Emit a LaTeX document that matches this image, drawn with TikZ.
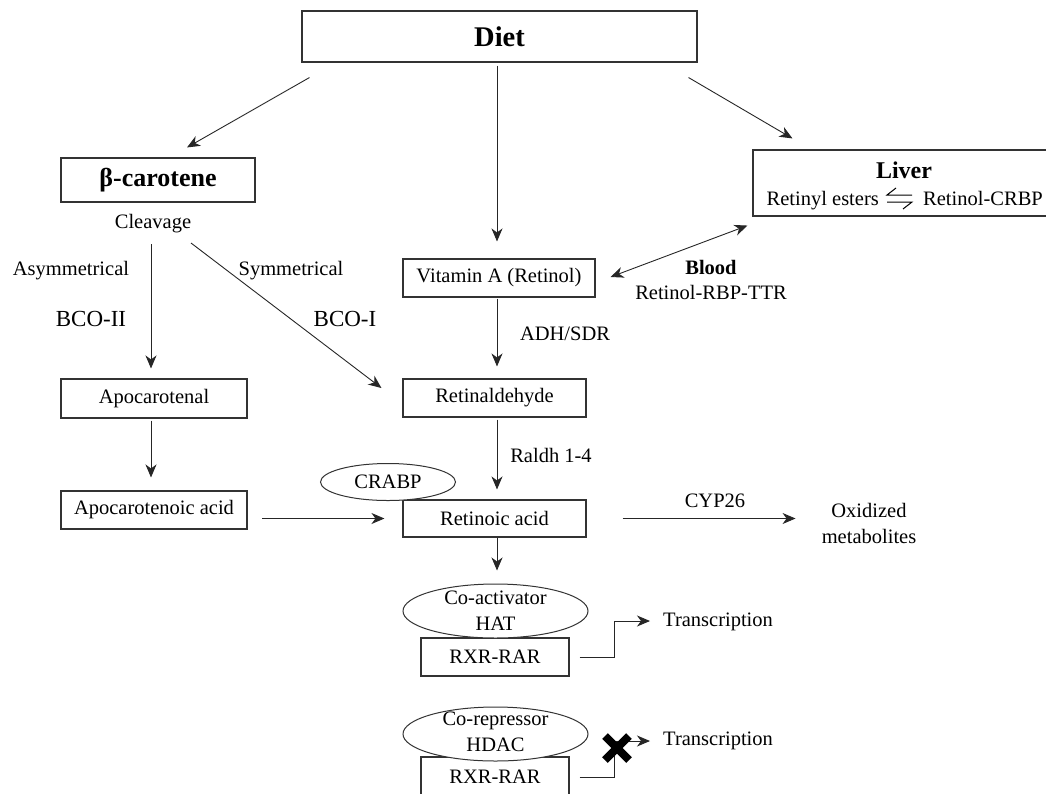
\documentclass[tikz,border=0pt]{standalone}
\usepackage{fontspec}
\setmainfont{Liberation Serif}
\usetikzlibrary{arrows.meta,shapes.geometric,calc}
\newcommand{\fz}[1]{\fontsize{#1}{26}\selectfont}
\tikzset{myst/.tip={Stealth[length=13pt,width=11pt,inset=4pt]}}
\begin{document}
\begin{tikzpicture}[x=1pt,y=-1pt,
 box/.style={draw=black!80, line width=1.1pt, inner sep=0pt, minimum height=38pt, font=\fz{20.5}},
 oval/.style={draw=black!80, line width=1pt, ellipse, inner sep=0pt, fill=white, font=\fz{20.5}},
 lbl/.style={inner sep=0pt, font=\fz{20.5}},
 arr/.style={draw=black!85, line width=0.9pt, -myst},
 harp/.style={draw=black, line width=1pt, line join=miter},
 xmark/.style={line width=8pt, draw=black},
]
\useasboundingbox (0,0) rectangle (1046,793);
\clip (0,0) rectangle (1046,793);

% nodes
\node[box, minimum width=395pt, minimum height=51pt, font=\fz{28.5}\bfseries] (diet) at (499.5,36.5) {Diet};
\node[box, minimum width=194pt, minimum height=44pt, font=\fz{26}\bfseries] (bc) at (158,180) {β-carotene};
\node[lbl] (cleav) at (153,224) {Cleavage};
\node[lbl] (asym) at (71,271) {Asymmetrical};
\node[lbl, font=\fz{23}] (bco2) at (91,319) {BCO-II};
\node[lbl] (sym) at (291,271) {Symmetrical};
\node[lbl, font=\fz{23}] (bco1) at (345,319) {BCO-I};
\node[box, minimum width=192pt] (vita) at (499,278) {Vitamin A (Retinol)};
\node[box, minimum width=297pt, minimum height=66pt] (liver) at (901.5,183) {};
\node[lbl, font=\fz{24}\bfseries] (livertxt) at (904,170) {Liver};
\node[lbl, anchor=base east] (esters) at (879,205) {Retinyl esters};
\node[lbl, anchor=base west] (rcrbp) at (923,205) {Retinol-CRBP};
\node[lbl, font=\fz{20.5}\bfseries] (blood) at (711,267) {Blood};
\node[lbl] (rbp) at (711,292) {Retinol-RBP-TTR};
\node[lbl] (adh) at (565,334) {ADH/SDR};
\node[box, minimum width=183pt] (retald) at (494.5,398) {Retinaldehyde};
\node[box, minimum width=186pt, minimum height=39pt] (apal) at (154,398.5) {Apocarotenal};
\node[lbl] (raldh) at (551,455) {Raldh 1-4};
\node[box, minimum width=186pt] (apacid) at (154,510) {Apocarotenoic acid};
\node[box, minimum width=183pt, minimum height=37pt] (retacid) at (494.5,518.5) {Retinoic acid};
\node[oval, minimum width=135pt, minimum height=37pt] (crabp) at (388,482) {CRABP};
\node[lbl] (cyp) at (715,501) {CYP26};
\node[lbl, align=center] (oxid) at (869,523) {Oxidized\\metabolites};

\node[box, minimum width=148pt] (rxr1) at (495,657) {RXR-RAR};
\node[oval, minimum width=185pt, minimum height=54pt] (coact) at (495.5,611) {};
\node[lbl, align=center] (coacttxt) at (coact.center) {Co-activator\\HAT};
\node[lbl, anchor=west] (tr1) at (663,622) {Transcription};

\node[box, minimum width=148pt, minimum height=40pt] (rxr2) at (495,777) {RXR-RAR};
\node[oval, minimum width=185pt, minimum height=54pt] (corep) at (495.5,734) {};
\node[lbl, align=center] (coreptxt) at (495.5,732) {Co-repressor\\HDAC};
\node[lbl, anchor=west] (tr2) at (663,741) {Transcription};

% equilibrium harpoons in the liver box
\draw[harp] ($(esters.base east)+(33,-10)$) -- ($(esters.base east)+(8,-10)$) -- ++(9,-7);
\draw[harp] ($(rcrbp.base west)+(-36,-3)$) -- ($(rcrbp.base west)+(-11,-3)$) -- ++(-9,7);

% connectors
\draw[arr] ($(diet.south west)+(8,15)$) -- ($(bc.north)+(29,-10)$);
\draw[arr] ($(diet.south)+(-2.5,3)$) -- ($(vita.north)+(-2,-17)$);
\draw[arr] ($(diet.south east)+(-9,15)$) -- ($(liver.north west)+(40,-11)$);
\draw[arr] ($(cleav.center)+(-2,20)$) -- ($(apal.north)+(-3,-10)$);
\draw[arr] ($(cleav.center)+(38,19)$) -- ($(retald.west)+(-21,-10)$);
\draw[arr, myst-myst] ($(vita.east)+(15,-1)$) -- ($(liver.south west)+(-5,9)$);
\draw[arr] ($(vita.south)+(-2,1)$) -- ($(retald.north)+(2.5,-12)$);
\draw[arr] ($(retald.south)+(2.5,2)$) -- ($(retacid.north)+(2.5,-10)$);
\draw[arr] ($(apal.south)+(-3,2)$) -- ($(apacid.north)+(-3,-13)$);
\draw[arr] ($(retacid.west)+(-140,0)$) -- ($(retacid.west)+(-18,0)$);
\draw[arr] ($(retacid.east)+(36,0)$) -- ($(retacid.east)+(209,0)$);
\draw[arr] ($(retacid.south)+(2.5,0)$) -- ($(coact.north)+(1.5,-13)$);
\draw[arr] ($(rxr1.east)+(10,0)$) -- ++(35,0) |- ($(tr1.west)+(-13,-1)$);
\draw[arr] ($(rxr2.east)+(10,0)$) -- ++(35,0) |- ($(tr2.west)+(-13,0)$);

% blocking cross
\draw[xmark] (605,736) -- (629,760) (605,760) -- (629,736);
\end{tikzpicture}
\end{document}
